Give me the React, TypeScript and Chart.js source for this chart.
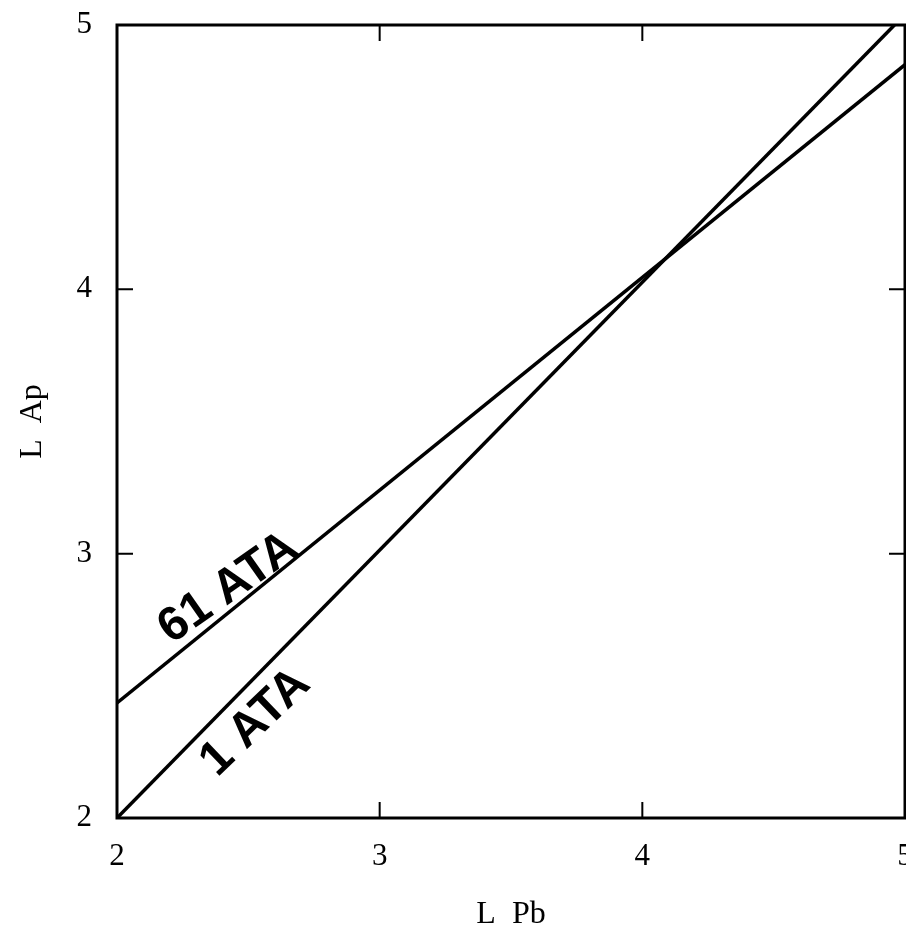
import React, { useEffect, useRef } from "react";
import { Chart, registerables } from "chart.js";

Chart.register(...registerables);

// ---- data ----
const xTickValues = [2, 3, 4, 5];
const yTickValues = [2, 3, 4, 5];
const ata1X = [2, 4.96];
const ata1Y = [2, 5];
const ata61X = [2, 5];
const ata61Y = [2.435, 4.85];
const seriesNames = ["1 ATA", "61 ATA"];
const labelAnchorX = [2.44, 2.47];

const SERIF = '"Liberation Serif", "Times New Roman", serif';
const SANS = '"Liberation Sans", Arial, sans-serif';

const labelSide = [-32, 19]; // perpendicular offset (negative = below line)
const labelTilt = [0.03, 0.07];

const framePlugin = {
  id: "frameAndLabels",
  afterDatasetsDraw(chart: any) {
    const ctx = chart.ctx as CanvasRenderingContext2D;
    const { left, right, top, bottom } = chart.chartArea;
    const xs = chart.scales.x;
    const ys = chart.scales.y;
    ctx.save();
    ctx.strokeStyle = "#000";
    ctx.lineWidth = 3;
    ctx.strokeRect(left, top, right - left, bottom - top);
    ctx.lineWidth = 2;
    const tl = 16;
    ctx.beginPath();
    xTickValues.forEach((v) => {
      const px = xs.getPixelForValue(v);
      ctx.moveTo(px, bottom);
      ctx.lineTo(px, bottom - tl);
      ctx.moveTo(px, top);
      ctx.lineTo(px, top + tl);
    });
    yTickValues.forEach((v) => {
      const py = ys.getPixelForValue(v);
      ctx.moveTo(left, py);
      ctx.lineTo(left + tl, py);
      ctx.moveTo(right, py);
      ctx.lineTo(right - tl, py);
    });
    ctx.stroke();

    // line labels
    const lines = [
      { X: ata1X, Y: ata1Y },
      { X: ata61X, Y: ata61Y },
    ];
    lines.forEach((ln, i) => {
      const p0x = xs.getPixelForValue(ln.X[0]);
      const p0y = ys.getPixelForValue(ln.Y[0]);
      const p1x = xs.getPixelForValue(ln.X[1]);
      const p1y = ys.getPixelForValue(ln.Y[1]);
      const ang = Math.atan2(p1y - p0y, p1x - p0x);
      const ax = labelAnchorX[i];
      const ay = ln.Y[0] + ((ax - ln.X[0]) * (ln.Y[1] - ln.Y[0])) / (ln.X[1] - ln.X[0]);
      const px = xs.getPixelForValue(ax);
      const py = ys.getPixelForValue(ay);
      const nx = Math.sin(ang);
      const ny = -Math.cos(ang);
      const d = labelSide[i];
      const cx = px + nx * d;
      const cy = py + ny * d;
      ctx.save();
      ctx.translate(cx, cy);
      ctx.rotate(ang + labelTilt[i]);
      ctx.fillStyle = "#000";
      ctx.font = `bold 48px ${SANS}`;
      ctx.textAlign = "center";
      ctx.textBaseline = "middle";
      ctx.fillText(seriesNames[i], 0, 0);
      ctx.restore();
    });
    ctx.restore();
  },
};

export default function App() {
  const ref = useRef<HTMLCanvasElement | null>(null);
  useEffect(() => {
    if (!ref.current) return;
    const chart = new Chart(ref.current, {
      type: "scatter",
      data: {
        datasets: [
          {
            label: seriesNames[0],
            data: ata1X.map((x, i) => ({ x, y: ata1Y[i] })),
            showLine: true,
            borderColor: "#000",
            borderWidth: 3.5,
            pointRadius: 0,
          },
          {
            label: seriesNames[1],
            data: ata61X.map((x, i) => ({ x, y: ata61Y[i] })),
            showLine: true,
            borderColor: "#000",
            borderWidth: 3.5,
            pointRadius: 0,
          },
        ],
      },
      options: {
        animation: false,
        responsive: false,
        maintainAspectRatio: false,
        layout: { padding: { top: 25, right: 1, left: 0, bottom: 0 } },
        plugins: { legend: { display: false }, tooltip: { enabled: false } },
        scales: {
          x: {
            type: "linear",
            min: 2,
            max: 5,
            grid: { display: false, drawTicks: false },
            border: { display: false },
            ticks: {
              stepSize: 1,
              autoSkip: false,
              maxRotation: 0,
              color: "#000",
              padding: 20,
              font: { family: SERIF, size: 31 },
            },
            title: {
              display: true,
              text: "L  Pb",
              color: "#000",
              font: { family: SERIF, size: 32 },
              padding: { top: 0, bottom: 14 },
            },
            afterFit: (s: any) => {
              s.height = 130;
              s.paddingLeft = 0;
              s.paddingRight = 0;
            },
          },
          y: {
            type: "linear",
            min: 2,
            max: 5,
            grid: { display: false, drawTicks: false },
            border: { display: false },
            ticks: {
              stepSize: 1,
              autoSkip: false,
              color: "#000",
              padding: 25,
              font: { family: SERIF, size: 31 },
            },
            title: {
              display: true,
              text: "L  Ap",
              color: "#000",
              font: { family: SERIF, size: 32 },
              padding: { top: 13, bottom: 0 },
            },
            afterFit: (s: any) => {
              s.width = 117;
              s.paddingTop = 0;
              s.paddingBottom = 0;
            },
          },
        },
      } as any,
      plugins: [framePlugin],
    });
    return () => chart.destroy();
  }, []);
  return (
    <div style={{ position: "fixed", left: 0, top: 0, width: 906, height: 948, background: "#fff" }}>
      <canvas ref={ref} width={906} height={948} />
    </div>
  );
}
